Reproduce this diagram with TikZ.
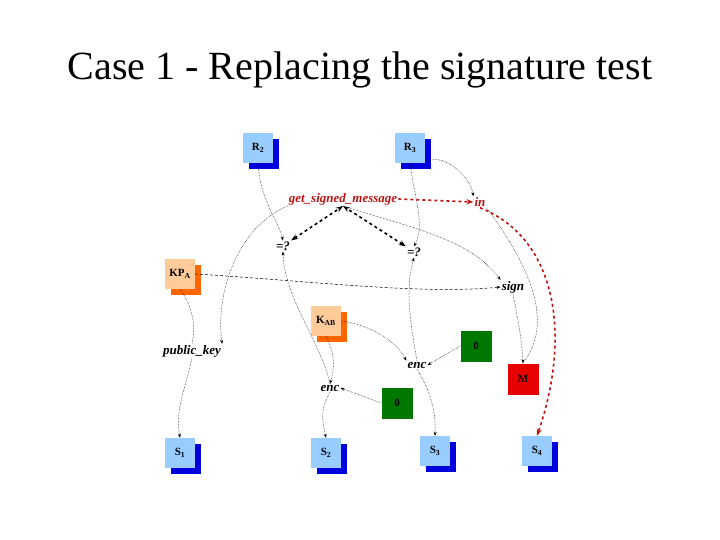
\documentclass[tikz,border=0pt]{standalone}
\usepackage{fontspec}
\setmainfont{Liberation Serif}
\usetikzlibrary{arrows.meta}
\definecolor{lb}{RGB}{153,204,255}
\definecolor{db}{RGB}{0,0,220}
\definecolor{lo}{RGB}{255,204,153}
\definecolor{do}{RGB}{255,102,0}
\definecolor{gr}{RGB}{0,120,0}
\definecolor{rd}{RGB}{230,0,0}
\definecolor{dred}{RGB}{190,20,20}
\tikzset{
  front/.style={minimum size=30pt,inner sep=0pt,font=\bfseries\fontsize{11}{13}\selectfont},
  bluebox/.style={front,fill=lb},
  orbox/.style={front,fill=lo},
  greenbox/.style={front,fill=gr,minimum size=31pt},
  redbox/.style={front,fill=rd,minimum size=31pt},
  lab/.style={font=\bfseries\itshape\fontsize{13}{15}\selectfont,inner sep=1pt},
  dep/.style={densely dotted,line width=0.5pt,-{Stealth[length=4pt]}},
  dep0/.style={densely dotted,line width=0.5pt},
  bd/.style={dashed,line width=1.6pt,{Stealth[length=7pt]}-{Stealth[length=7pt]}},
  rdash/.style={dashed,line width=1.6pt,draw=dred,-{Stealth[length=7pt]}}
}
\begin{document}
\begin{tikzpicture}[x=1pt,y=-1pt]
\useasboundingbox (0,0) rectangle (720,540);
\node[font=\fontsize{40}{44}\selectfont] (title) at (360,70) {Case 1 - Replacing the signature test};
% shadows
\foreach \x/\y/\c in {258/148/db,410/148/db,180/453/db,326/453/db,435/451/db,537/451/db,180/274/do,326/321/do}
  \fill[\c] (\x-9,\y-9) rectangle (\x+21,\y+21);
\node[bluebox] (R2) at (258,148) {R\textsubscript{2}};
\node[bluebox] (R3) at (410,148) {R\textsubscript{3}};
\node[orbox] (KPA) at (180,274) {KP\textsubscript{A}};
\node[orbox] (KAB) at (326,321) {K\textsubscript{AB}};
\node[greenbox] (Z1) at (476,346) {0};
\node[redbox] (M) at (523,379) {M};
\node[greenbox] (Z2) at (397,403) {0};
\node[bluebox] (S1) at (180,453) {S\textsubscript{1}};
\node[bluebox] (S2) at (326,453) {S\textsubscript{2}};
\node[bluebox] (S3) at (435,451) {S\textsubscript{3}};
\node[bluebox] (S4) at (537,451) {S\textsubscript{4}};
% labels
\node[lab,text=dred] (gsm) at (343,199) {get\_signed\_message};
\node[lab,text=dred] (in) at (480,202) {in};
\node[lab] (eq1) at (283,246) {=?};
\node[lab] (eq2) at (414,252) {=?};
\node[lab] (sign) at (513,287) {sign};
\node[lab] (pk) at (192,351) {public\_key};
\node[lab] (enc1) at (417,365) {enc};
\node[lab] (enc2) at (330,388) {enc};
% connectors
\draw[dep] (R2.south) .. controls (260,200) and (278,220) .. (eq1.north);
\draw[dep] (R3.south) .. controls (415,200) and (425,225) .. (eq2.north);
\draw[dep] (R3.south east) .. controls (440,150) and (470,175) .. (in.north west);
\draw[rdash] (gsm.east) -- (in.west);
\draw[bd] (eq1.north east) -- (gsm.south);
\draw[bd] (eq2.north west) -- (gsm.south);
\draw[densely dashed,line width=0.5pt,-{Stealth[length=4pt]}] (KPA.east) .. controls (300,280) and (420,295) .. (sign.west);
\draw[dep] (gsm.south west) .. controls (240,225) and (215,290) .. (pk.north east);
\draw[dep] (gsm.south) .. controls (420,230) and (470,240) .. (sign.north west);
\draw[dep0] (KPA.south) .. controls (195,310) and (195,330) .. (pk.north);
\draw[dep] (pk.south) .. controls (185,390) and (175,410) .. (S1.north);
\draw[dep] (enc2.north) .. controls (320,340) and (285,300) .. (eq1.south);
\draw[dep] (enc1.north) .. controls (410,320) and (405,290) .. (eq2.south);
\draw[dep] (KAB.east) .. controls (370,325) and (395,340) .. (enc1.north west);
\draw[dep] (KAB.south) .. controls (336,355) and (334,370) .. (enc2.north);
\draw[dep] (Z1.west) -- (enc1.east);
\draw[dep] (Z2.west) -- (enc2.east);
\draw[dep] (enc2.south) .. controls (320,410) and (322,420) .. (S2.north);
\draw[dep] (enc1.south) .. controls (430,390) and (436,410) .. (S3.north);
\draw[dep] (sign.south) .. controls (518,320) and (522,340) .. (M.north);
\draw[dep0] (M.north) .. controls (540,340) and (555,300) .. (in.south east);
\draw[rdash] (in.south) .. controls (560,240) and (570,340) .. (S4.north);
\end{tikzpicture}
\end{document}
